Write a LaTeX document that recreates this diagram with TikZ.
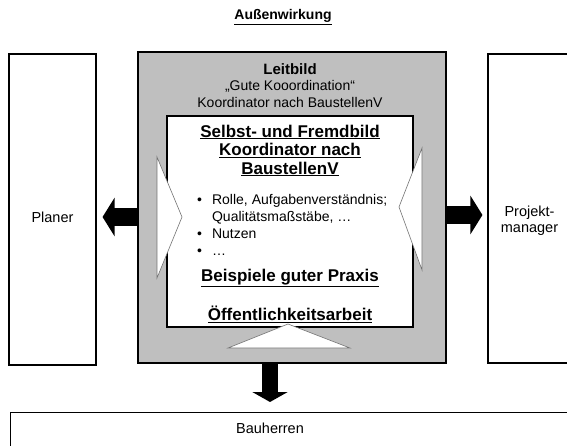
\documentclass[tikz,border=0pt]{standalone}
\usepackage{fontspec}
\setmainfont{Liberation Sans}
\usetikzlibrary{calc}
\usetikzlibrary{positioning}
\usetikzlibrary{arrows.meta}

\begin{document}
\begin{tikzpicture}
            [x=1pt, y=-1pt,
            panel/.style={draw, line width=1.1pt, rectangle, inner sep=0pt},
            pointer/.style={draw=pointercolor, fill=white, line width=0.6pt},
            flow/.style={line width=18pt, -{Triangle[length=12pt, width=38pt]}},
            label/.style={font=\fontsize{14.5}{16}\selectfont, align=center},
            heading/.style={font=\fontsize{17}{18.5}\selectfont\bfseries, align=center, inner sep=0pt},
            ]
            \colorlet{leitcolor}{black!25}
            \colorlet{pointercolor}{black!55}
            \useasboundingbox (0,0) rectangle (567,446);

            \node[font=\fontsize{14}{16}\selectfont\bfseries] (title) at (283,17) {\underline{Außenwirkung}};

            % outer boxes
            \node[panel, minimum width=87pt, minimum height=311pt] (planer) at (52.5,209.5) {};
            \node[panel, fill=leitcolor, minimum width=308pt, minimum height=311pt] (leit) at (292,207.5) {};
            \node[panel, minimum width=83pt, minimum height=309pt] (projekt) at (529.5,208.5) {};
            \node[panel, anchor=north west, minimum width=570pt, minimum height=60pt] (bau) at (10,412) {};

            \node[label] (planertext) at ([yshift=-7.5pt]planer.center) {Planer};
            \node[label] (projekttext) at ([yshift=-12.5pt]projekt.center) {Projekt-\\manager};
            \node[label] (bautext) at (270,428) {Bauherren};

            % inner box
            \node[panel, fill=white, minimum width=246pt, minimum height=211pt] (inner) at (290,221.5) {};
            \draw[pointer] (157,157) -- (182,217) -- (157,278) -- cycle;
            \draw[pointer] (422,148) -- (399,207) -- (422,270) -- cycle;
            \draw[pointer] (228,348) -- (288,324) -- (350,348) -- cycle;

            \node[label, font=\fontsize{14}{16.5}\selectfont] (leitbild) at (290,85.5)
                {{\fontsize{15}{16.5}\selectfont\bfseries Leitbild}\\„Gute Kooordination“\\Koordinator nach BaustellenV};
            \node[heading] (selbst) at (290,150.5)
                {\underline{Selbst- und Fremdbild}\\\underline{Koordinator nach}\\\underline{BaustellenV}};
            \node[anchor=base west, inner sep=0pt, font=\fontsize{14}{17}\selectfont] (punkte) at (197,205)
                {\begin{tabular}[t]{@{}l@{\hspace{10pt}}l@{}}
                    \textbullet & Rolle, Aufgabenverständnis;\\
                    & Qualitätsmaßstäbe, \dots\\
                    \textbullet & Nutzen\\
                    \textbullet & \dots
                \end{tabular}};
            \node[heading] (praxis) at (290,278) {\underline{Beispiele guter Praxis}};
            \node[heading] (oeffentlich) at (290,314) {\underline{Öffentlichkeitsarbeit}};

            % arrows
            \draw[flow, shorten >=6pt] ([yshift=-9.5pt]leit.west) -- ([yshift=-9.5pt]leit.west -| planer.east);
            \draw[flow, shorten >=5pt] ([yshift=-7.5pt]leit.east) -- ([yshift=-7.5pt]leit.east -| projekt.west);
            \draw[flow, line width=16pt, -{Triangle[length=10pt, width=35pt]}, shorten >=10pt]
                (leit.south -| bautext) -- (bau.north -| bautext);
        \end{tikzpicture}
\end{document}
